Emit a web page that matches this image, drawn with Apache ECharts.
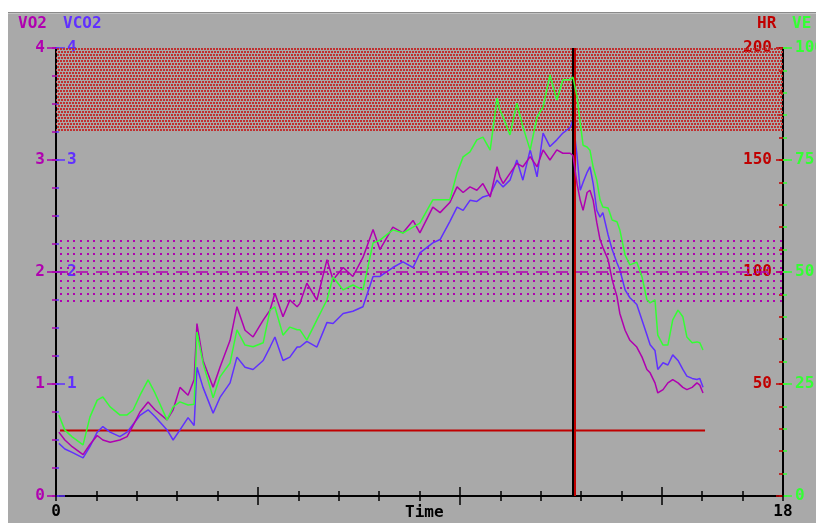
<!DOCTYPE html>
<html>
<head>
<meta charset="utf-8">
<script src="https://cdn.jsdelivr.net/npm/echarts@6/dist/echarts.min.js"></script>
<style>
  html, body { margin: 0; padding: 0; background: #ffffff; }
  #chart { width: 816px; height: 523px; }
</style>
</head>
<body>
<div id="chart"></div>
<script>
// Exercise test: gas exchange and ventilation against time (minutes)
const minutes = [0.07,0.22,0.40,0.67,0.84,1.02,1.16,1.34,1.58,1.76,1.91,2.08,2.28,2.45,2.75,2.90,3.07,3.27,3.42,3.49,
  3.64,3.89,4.06,4.31,4.48,4.68,4.88,5.13,5.30,5.42,5.62,5.79,5.97,6.04,6.21,6.46,6.71,6.86,7.11,7.35,
  7.60,7.85,8.02,8.34,8.59,8.84,9.01,9.33,9.51,9.75,9.93,10.08,10.25,10.42,10.57,10.75,10.92,10.99,11.07,11.24,
  11.41,11.56,11.74,11.91,12.06,12.23,12.40,12.55,12.73,12.80,12.90,12.98,13.05,13.15,13.22,13.30,13.39,13.47,13.54,13.67,
  13.77,13.89,13.96,14.09,14.21,14.38,14.51,14.63,14.71,14.83,14.90,15.03,15.15,15.27,15.40,15.52,15.62,15.75,15.87,15.94,16.02];

// VO2, l/min
const vo2 = [0.57,0.50,0.44,0.37,0.46,0.54,0.50,0.48,0.50,0.53,0.63,0.75,0.84,0.77,0.68,0.77,0.97,0.90,1.04,1.54,
  1.21,0.97,1.15,1.39,1.69,1.48,1.42,1.57,1.66,1.81,1.60,1.75,1.69,1.72,1.90,1.75,2.11,1.93,2.04,1.96,
  2.13,2.38,2.20,2.40,2.35,2.46,2.35,2.58,2.53,2.62,2.76,2.71,2.76,2.73,2.79,2.67,2.94,2.85,2.79,2.88,
  2.97,2.94,3.03,2.94,3.09,3.00,3.09,3.06,3.06,3.04,2.79,2.64,2.55,2.71,2.73,2.64,2.44,2.29,2.22,2.11,
  1.93,1.78,1.63,1.48,1.39,1.33,1.24,1.13,1.10,1.01,0.92,0.95,1.01,1.04,1.01,0.97,0.95,0.97,1.01,0.99,0.92];

// VCO2, l/min
const vco2 = [0.47,0.42,0.39,0.34,0.44,0.57,0.62,0.57,0.53,0.57,0.64,0.72,0.77,0.71,0.59,0.50,0.59,0.70,0.63,1.15,
  0.97,0.74,0.88,1.01,1.24,1.15,1.13,1.21,1.33,1.42,1.21,1.24,1.33,1.33,1.38,1.33,1.55,1.54,1.63,1.65,
  1.69,1.96,1.96,2.04,2.09,2.04,2.17,2.26,2.29,2.45,2.58,2.55,2.64,2.63,2.67,2.69,2.82,2.79,2.76,2.82,
  3.00,2.82,3.09,2.85,3.24,3.12,3.18,3.24,3.29,3.36,3.04,2.73,2.80,2.89,2.94,2.79,2.55,2.49,2.53,2.33,
  2.20,2.08,2.02,1.84,1.77,1.71,1.57,1.44,1.35,1.30,1.13,1.19,1.17,1.26,1.21,1.13,1.07,1.05,1.04,1.05,0.97];

// VE, l/min
const ve = [18.1,14.7,13.2,11.4,17.6,21.4,22.1,19.9,18.1,18.1,19.2,22.5,25.9,23.0,17.0,19.9,21.0,20.3,20.5,36.6,
  29.7,21.9,26.6,29.7,37.1,33.7,33.3,34.2,41.5,42.2,35.9,37.7,37.1,37.1,34.8,39.3,43.8,48.9,46.0,47.1,
  46.0,56.5,57.1,59.4,58.7,60.0,60.9,66.1,66.1,66.1,72.1,75.7,76.8,79.5,80.1,77.2,88.8,86.2,84.6,80.6,
  87.7,82.4,77.2,84.6,86.8,94.0,88.4,92.9,92.9,93.5,89.1,83.3,78.3,77.9,77.2,73.4,70.5,66.1,64.5,64.3,
  61.6,61.2,59.4,53.8,51.6,52.2,48.9,43.8,43.1,43.8,35.9,33.7,33.7,39.3,41.5,40.0,35.5,34.2,34.4,34.2,32.6];

// HR channel (flat, no signal) in bpm
const hrMinutes = [0.10, 16.07];
const hrBpm = [29.2, 29.2];

// Reference bands and markers
const hrZone = [163, 200];        // bpm
const vo2Zone = [1.73, 2.31];     // l/min
const vo2Target = 2;              // l/min
const markerMinute = 12.8;        // end of exercise

// Axis scales and tick steps
const timeRange = [0, 18];
const gasRange = [0, 4];
const hrRange = [0, 200];
const veRange = [0, 100];
const gasStep = [1, 0.25];
const hrStep = [50, 10];
const veStep = [25, 5];
const timeStep = [5, 1];
const timeMajorTicks = [5, 10, 15];

const C = {
  bg: '#a9a9a9',
  vo2: '#b000b0',
  vco2: '#6030ff',
  hr: '#c00000',
  ve: '#33ff33',
  axis: '#000000'
};
const FONT = 'DejaVu Sans Mono';
const txt = (color) => ({ color: color, fontFamily: FONT, fontWeight: 'bold', fontSize: 16 });
const gfont = 'bold 16px "' + FONT + '"';

function dotPattern(w, h, dots, size, color) {
  const c = document.createElement('canvas');
  c.width = w; c.height = h;
  const g = c.getContext('2d');
  g.fillStyle = color;
  dots.forEach(function (d) { g.fillRect(d[0], d[1], size, size); });
  return { image: c, repeat: 'repeat' };
}

const pairs = (xs, ys) => xs.map((x, i) => [x, ys[i]]);

const chart = echarts.init(document.getElementById('chart'), null, { renderer: 'canvas' });

// tick-only axis helper (no line, no labels)
function tickAxis(base, interval, length, inside, color, extra) {
  return Object.assign({}, base, {
    interval: interval,
    splitLine: { show: false },
    axisLine: { show: false, onZero: false },
    axisLabel: { show: false },
    axisTick: Object.assign({ show: true, inside: inside, length: length, lineStyle: { color: color, width: 1.5 } }, extra || {})
  });
}

const xBase = { type: 'value', min: timeRange[0], max: timeRange[1], position: 'bottom' };
const gasL = { type: 'value', min: gasRange[0], max: gasRange[1], position: 'left' };
const hrR = { type: 'value', min: hrRange[0], max: hrRange[1], position: 'right' };
const veR = { type: 'value', min: veRange[0], max: veRange[1], position: 'right' };

chart.setOption({
  animation: false,
  backgroundColor: C.bg,
  grid: { left: 56, right: 33, top: 48, bottom: 27, containLabel: false, outerBoundsMode: 'none' },
  graphic: [
    { type: 'rect', left: 0, top: 0, shape: { width: 816, height: 14 }, style: { fill: '#ffffff' }, silent: true },
    { type: 'rect', left: 0, top: 0, shape: { width: 8, height: 523 }, style: { fill: '#ffffff' }, silent: true },
    { type: 'rect', left: 8, top: 12, shape: { width: 808, height: 1.5 }, style: { fill: '#8a8a8a' }, silent: true },
    { type: 'text', left: 18, top: 16, style: { text: 'VO2', fill: C.vo2, font: gfont } },
    { type: 'text', left: 63, top: 16, style: { text: 'VCO2', fill: C.vco2, font: gfont } },
    { type: 'text', left: 757, top: 16, style: { text: 'HR', fill: C.hr, font: gfont } },
    { type: 'text', left: 792, top: 16, style: { text: 'VE', fill: C.ve, font: gfont } },
    { type: 'text', left: 405, top: 505, style: { text: 'Time', fill: C.axis, font: gfont } }
  ],
  xAxis: [
    Object.assign({}, xBase, {
      interval: timeStep[1],
      splitLine: { show: false },
      axisLine: { show: true, onZero: false, lineStyle: { color: C.axis, width: 2 } },
      axisTick: { show: true, length: 5, lineStyle: { color: C.axis, width: 1.5 } },
      axisLabel: Object.assign({
        show: true, margin: 8, showMinLabel: true, showMaxLabel: true,
        formatter: (v) => (v === timeRange[0] || v === timeRange[1]) ? String(v) : ''
      }, txt(C.axis))
    }),
    tickAxis(xBase, timeStep[1], 5, true, C.axis),
    tickAxis(xBase, timeStep[0], 9, false, C.axis, { customValues: timeMajorTicks }),
    tickAxis(xBase, timeStep[0], 9, true, C.axis, { customValues: timeMajorTicks })
  ],
  yAxis: [
    Object.assign({}, gasL, {
      interval: gasStep[0],
      splitLine: { show: false },
      axisLine: { show: true, onZero: false, lineStyle: { color: C.axis, width: 2 } },
      axisTick: { show: true, length: 9, lineStyle: { color: C.vo2, width: 1.5 } },
      axisLabel: Object.assign({ margin: 11, showMinLabel: true, showMaxLabel: true }, txt(C.vo2))
    }),
    Object.assign({}, gasL, {
      interval: gasStep[0],
      splitLine: { show: false },
      axisLine: { show: false, onZero: false },
      axisTick: { show: true, inside: true, length: 9, lineStyle: { color: C.vco2, width: 1.5 } },
      axisLabel: Object.assign({
        inside: true, margin: 11, showMaxLabel: true,
        formatter: (v) => v === 0 ? '' : String(v)
      }, txt(C.vco2))
    }),
    Object.assign({}, hrR, {
      interval: hrStep[0],
      splitLine: { show: false },
      axisLine: { show: true, onZero: false, lineStyle: { color: C.axis, width: 2 } },
      axisTick: { show: true, inside: true, length: 7, lineStyle: { color: C.hr, width: 1.5 } },
      axisLabel: Object.assign({
        inside: true, margin: 11, showMaxLabel: true,
        formatter: (v) => v === 0 ? '' : String(v)
      }, txt(C.hr))
    }),
    Object.assign({}, veR, {
      interval: veStep[0],
      splitLine: { show: false },
      axisLine: { show: false, onZero: false },
      axisTick: { show: true, length: 9, lineStyle: { color: C.ve, width: 1.5 } },
      axisLabel: Object.assign({ margin: 12, showMinLabel: true, showMaxLabel: true }, txt(C.ve))
    }),
    tickAxis(gasL, gasStep[1], 4, false, C.vo2),
    tickAxis(gasL, gasStep[1], 3, true, C.vco2),
    tickAxis(hrR, hrStep[1], 4, true, C.hr),
    tickAxis(veR, veStep[1], 4, false, C.ve)
  ],
  series: [
    {
      name: 'hrBand', type: 'line', data: [], xAxisIndex: 0, yAxisIndex: 2, z: 1,
      markArea: {
        silent: true,
        itemStyle: { color: dotPattern(6, 6, [[0, 0], [3, 0], [1, 3], [4, 3]], 2, '#c03030') },
        data: [[{ yAxis: hrZone[0] }, { yAxis: hrZone[1] }]]
      }
    },
    {
      name: 'vo2Band', type: 'line', data: [], xAxisIndex: 0, yAxisIndex: 0, z: 1,
      markArea: {
        silent: true,
        itemStyle: { color: dotPattern(20, 20, [[0, 0], [7, 0], [13, 0], [0, 7], [7, 7], [13, 7], [0, 13], [7, 13], [13, 13]], 2, C.vo2) },
        data: [[{ yAxis: vo2Zone[0] }, { yAxis: vo2Zone[1] }]]
      },
      markLine: {
        silent: true, symbol: 'none', label: { show: false },
        lineStyle: { color: C.vo2, width: 1.5, type: [12, 8] },
        data: [{ yAxis: vo2Target }]
      }
    },
    {
      name: 'HR', type: 'line', xAxisIndex: 0, yAxisIndex: 2, z: 3,
      data: pairs(hrMinutes, hrBpm), showSymbol: false, symbol: 'none',
      lineStyle: { color: C.hr, width: 2 }
    },
    {
      name: 'VCO2', type: 'line', xAxisIndex: 0, yAxisIndex: 1, z: 4,
      data: pairs(minutes, vco2), showSymbol: false, symbol: 'none',
      lineStyle: { color: C.vco2, width: 1.5 }
    },
    {
      name: 'VO2', type: 'line', xAxisIndex: 0, yAxisIndex: 0, z: 5,
      data: pairs(minutes, vo2), showSymbol: false, symbol: 'none',
      lineStyle: { color: C.vo2, width: 1.5 }
    },
    {
      name: 'VE', type: 'line', xAxisIndex: 0, yAxisIndex: 3, z: 6,
      data: pairs(minutes, ve), showSymbol: false, symbol: 'none',
      lineStyle: { color: C.ve, width: 1.5 },
      markLine: {
        silent: true, symbol: 'none', label: { show: false },
        lineStyle: { color: C.axis, width: 2, type: 'solid', shadowColor: C.hr, shadowOffsetX: 2, shadowBlur: 0 },
        data: [{ xAxis: markerMinute }]
      }
    }
  ]
});
</script>
</body>
</html>
